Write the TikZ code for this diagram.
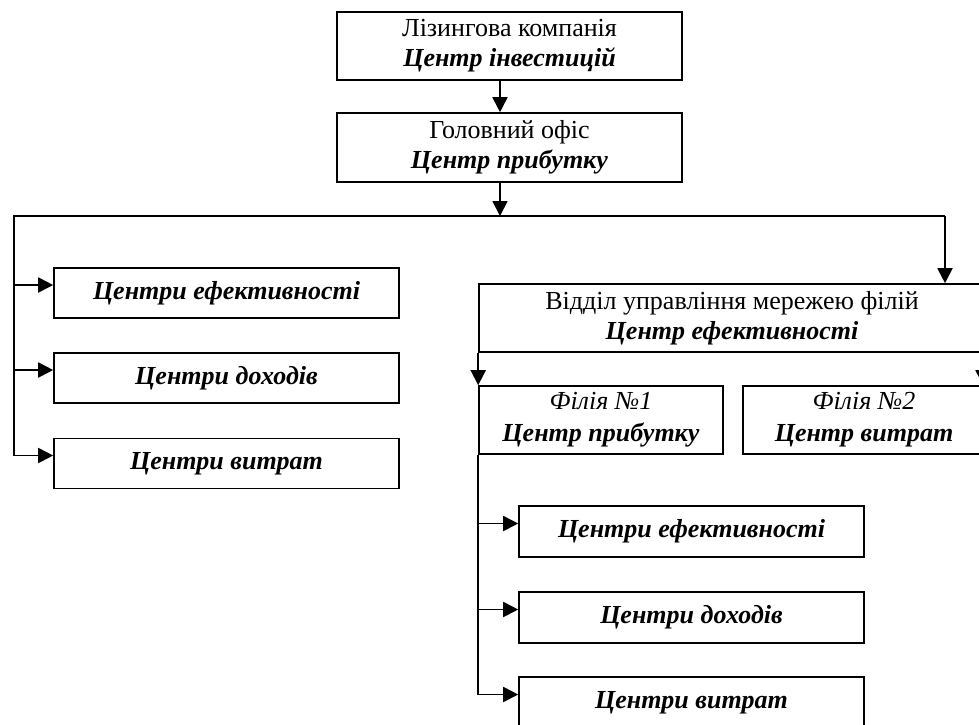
\documentclass[tikz,border=0pt]{standalone}
\usepackage{fontspec}
\setmainfont{Liberation Serif}
\usetikzlibrary{arrows.meta}
\begin{document}
\begin{tikzpicture}[x=1pt,y=-1pt,
  box/.style={draw,line width=1.6pt,inner sep=0pt,align=center,font=\fontsize{26}{30}\selectfont},
  fbox/.style={box,font=\fontsize{26}{32}\selectfont},
  ln/.style={line width=1.8pt},
  arr/.style={ln,-{Triangle[length=15pt,width=15pt]}}]
\clip (0,0) rectangle (979,724);
\fill[white] (0,0) rectangle (979,724);
% top chain
\node[box,minimum width=345pt,minimum height=68pt] (top) at (509.5,46) {Лізингова компанія\\\textbf{\textit{Центр інвестицій}}};
\node[box,minimum width=345pt,minimum height=69pt] (ho) at (509.5,147.5) {Головний офіс\\\textbf{\textit{Центр прибутку}}};
% left column
\node[box,minimum width=345pt,minimum height=50pt] (L1) at (226.5,293) {\textbf{\textit{Центри ефективності}}};
\node[box,minimum width=345pt,minimum height=50pt] (L2) at (226.5,378) {\textbf{\textit{Центри доходів}}};
\node[box,minimum width=345pt,minimum height=50pt] (L3) at (226.5,463.5) {\textbf{\textit{Центри витрат}}};
% right part
\node[box,minimum width=506pt,minimum height=68pt] (dept) at (732,318) {Відділ управління мережею філій\\\textbf{\textit{Центр ефективності}}};
\node[fbox,minimum width=244pt,minimum height=68pt] (f1) at (601,420) {\textit{Філія №1}\\\textbf{\textit{Центр прибутку}}};
\node[fbox,minimum width=242pt,minimum height=68pt] (f2) at (864,420) {\textit{Філія №2}\\\textbf{\textit{Центр витрат}}};
\node[box,minimum width=345pt,minimum height=51pt] (R1) at (691.5,531.5) {\textbf{\textit{Центри ефективності}}};
\node[box,minimum width=345pt,minimum height=51pt] (R2) at (691.5,617.5) {\textbf{\textit{Центри доходів}}};
\node[box,minimum width=345pt,minimum height=51pt] (R3) at (691.5,702.5) {\textbf{\textit{Центри витрат}}};
% connectors
\coordinate (j1) at (500,216);
\coordinate (tL) at (14,216);
\coordinate (tR) at (945,216);
\coordinate (rX) at (983,0);
\draw[arr] (top.south -| j1) -- (ho.north -| j1);
\draw[arr] (ho.south -| j1) -- (j1);
\coordinate (a1) at ([yshift=8pt]L1.west);
\coordinate (a2) at ([yshift=8pt]L2.west);
\coordinate (a3) at ([yshift=8pt]L3.west);
\draw[ln] (tL |- a3) -- (tL) -- (tR);
\draw[arr] (tR) -- (dept.north -| tR);
\draw[arr] (tL |- a1) -- (a1);
\draw[arr] (tL |- a2) -- (a2);
\draw[arr] (tL |- a3) -- (a3);
\draw[arr] (dept.south west) -- (f1.north west);
\draw[arr] (dept.south -| rX) -- (f2.north -| rX);
\coordinate (b1) at ([yshift=8pt]R1.west);
\coordinate (b2) at ([yshift=8pt]R2.west);
\coordinate (b3) at ([yshift=8pt]R3.west);
\draw[ln] (f1.south west) -- (f1.south west |- b3);
\draw[arr] (f1.south west |- b1) -- (b1);
\draw[arr] (f1.south west |- b2) -- (b2);
\draw[arr] (f1.south west |- b3) -- (b3);
\end{tikzpicture}
\end{document}
